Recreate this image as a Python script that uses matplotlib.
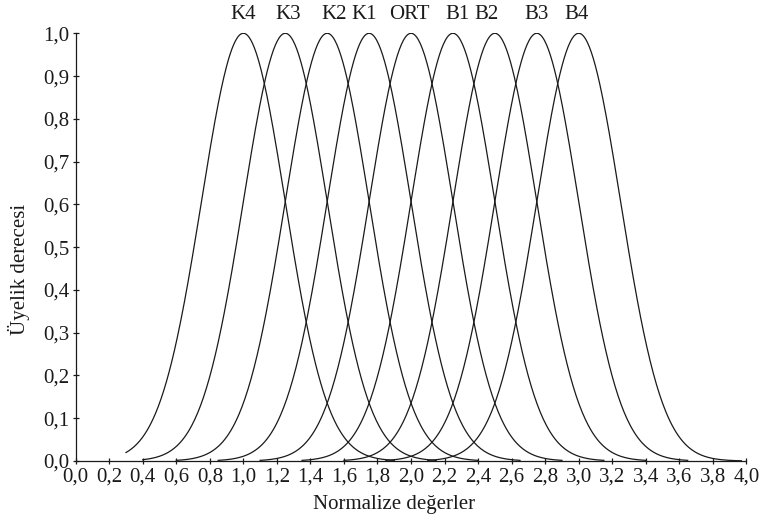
import numpy as np
import matplotlib
matplotlib.use('Agg')
import matplotlib.pyplot as plt
from matplotlib.ticker import FuncFormatter

# Gaussian membership functions (centre, spread)
names = ['K4', 'K3', 'K2', 'K1', 'ORT', 'B1', 'B2', 'B3', 'B4']
centers = [1.0, 1.25, 1.5, 1.75, 2.0, 2.25, 2.5, 2.75, 3.0]
sigma = 0.25
x_start = [0.3, 0.4, 0.6, 0.85, 1.1, 1.35, 1.6, 1.85, 2.1]
x_end = [1.9, 2.15, 2.4, 2.65, 2.9, 3.15, 3.4, 3.65, 3.97]
label_x = [1.0, 1.27, 1.54, 1.72, 1.99, 2.28, 2.45, 2.75, 2.99]

plt.rcParams['font.family'] = ['Liberation Serif', 'DejaVu Serif']

fig = plt.figure(figsize=(7.63, 5.17), dpi=100)
ax = fig.add_axes([0.0992, 0.1083, 0.879, 0.8273])

for c, a, b in zip(centers, x_start, x_end):
    x = np.linspace(a, b, 300)
    y = np.exp(-(x - c) ** 2 / (2 * sigma ** 2))
    ax.plot(x, y, color='#1a1a1a', lw=0.9)

for name, lx in zip(names, label_x):
    ax.text(lx, 1.045, name, ha='center', va='center', fontsize=15,
            color='#1a1a1a', clip_on=False)

ax.set_xlim(0, 4.0)
ax.set_ylim(0, 1.0)
ax.set_xticks(np.arange(0, 4.01, 0.2))
ax.set_yticks(np.arange(0, 1.01, 0.1))
comma = FuncFormatter(lambda v, p: f'{v:.1f}'.replace('.', ','))
ax.xaxis.set_major_formatter(comma)
ax.yaxis.set_major_formatter(comma)
ax.tick_params(direction='inout', length=5, width=0.9, labelsize=15,
               colors='#1a1a1a', pad=2)
for s in ['top', 'right']:
    ax.spines[s].set_visible(False)
for s in ['left', 'bottom']:
    ax.spines[s].set_linewidth(0.9)
    ax.spines[s].set_color('#1a1a1a')

ax.set_xlabel('Normalize değerler', fontsize=15, color='#1a1a1a', labelpad=0)
ax.xaxis.set_label_coords(0.475, -0.08)
ax.set_ylabel('Üyelik derecesi', fontsize=15, color='#1a1a1a')
ax.yaxis.set_label_coords(-0.068, 0.447)

fig.savefig('out.png', dpi=100)
